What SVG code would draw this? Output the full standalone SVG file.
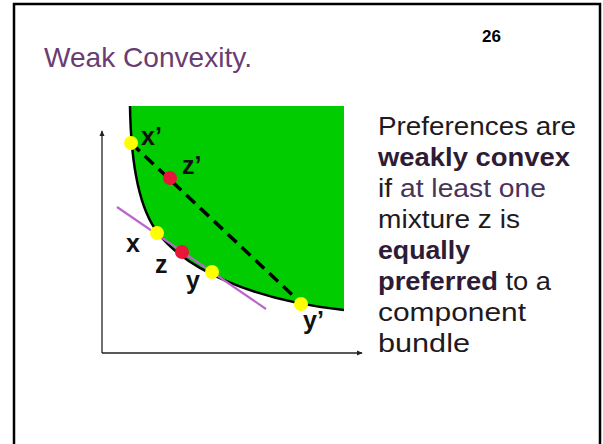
<svg xmlns="http://www.w3.org/2000/svg" width="603" height="444" viewBox="0 0 603 444">
<defs>
<marker id="ah" viewBox="0 0 8 8" refX="7" refY="4" markerWidth="6" markerHeight="6" orient="auto" markerUnits="userSpaceOnUse">
<path d="M0,0.5 L8,4 L0,7.5 Z" fill="#222"/>
</marker>
</defs>
<style>
.lbl{font-family:"Liberation Sans",Arial,sans-serif;font-size:25px;font-weight:bold;fill:#111}
.body{font-family:"Liberation Sans",Arial,sans-serif;font-size:26px;fill:#1e1a20}
.b{font-weight:bold;fill:#2e1b36}
.p{fill:#4a3358}
.yel{fill:#ffff00}
.red{fill:#e8173a}
</style>
<rect x="14" y="4" width="586" height="500" fill="#fff" stroke="#000" stroke-width="2.5"/>
<text x="44" y="67" font-family="'Liberation Sans',Arial,sans-serif" font-size="28" fill="#6a3d72" textLength="208" lengthAdjust="spacingAndGlyphs">Weak Convexity.</text>
<text x="482" y="42" font-family="'Liberation Sans',Arial,sans-serif" font-size="17" font-weight="bold" fill="#000">26</text>

<g id="region">
<path d="M130,106 C131,170 140,210 158,233 C185,268 250,300 344,310 L344,106 Z" fill="#00cc00"/>
<path d="M130,106 C131,170 140,210 158,233 C185,268 250,300 344,310" fill="none" stroke="#000" stroke-width="2.5"/>
</g>

<g id="connectors">
<line x1="102" y1="353" x2="102" y2="131" stroke="#222" stroke-width="1.3" marker-end="url(#ah)"/>
<line x1="102" y1="353" x2="362" y2="353" stroke="#222" stroke-width="1.3" marker-end="url(#ah)"/>
<line x1="131" y1="143" x2="302" y2="304" stroke="#000" stroke-width="3.5" stroke-dasharray="12 7"/>
<line x1="117" y1="207" x2="266" y2="309" stroke="#bb66cc" stroke-width="2.2"/>
</g>

<g id="node-xp"><circle cx="131" cy="143" r="7" class="yel"/><text x="141" y="145" class="lbl">x’</text></g>
<g id="node-zp"><circle cx="170" cy="178" r="7" class="red"/><text x="182" y="174" class="lbl">z’</text></g>
<g id="node-x"><circle cx="157" cy="233" r="7" class="yel"/><text x="126" y="252" class="lbl">x</text></g>
<g id="node-z"><circle cx="182" cy="252" r="7" class="red"/><text x="155" y="273" class="lbl">z</text></g>
<g id="node-y"><circle cx="212" cy="272" r="7" class="yel"/><text x="186" y="289" class="lbl">y</text></g>
<g id="node-yp"><circle cx="301" cy="304" r="7" class="yel"/><text x="303" y="329" class="lbl">y’</text></g>

<g id="description" class="body">
<text x="378" y="135" class="body" textLength="198" lengthAdjust="spacingAndGlyphs">Preferences are</text>
<text x="378" y="166" class="body b" textLength="192" lengthAdjust="spacingAndGlyphs">weakly convex</text>
<text x="378" y="197" class="body" textLength="168" lengthAdjust="spacingAndGlyphs">if <tspan class="p">at least one</tspan></text>
<text x="378" y="228" class="body" textLength="142" lengthAdjust="spacingAndGlyphs">mixture z is</text>
<text x="378" y="259" class="body b" textLength="92" lengthAdjust="spacingAndGlyphs">equally</text>
<text x="378" y="290" class="body" textLength="173" lengthAdjust="spacingAndGlyphs"><tspan class="b">preferred</tspan> to a</text>
<text x="378" y="321" class="body" textLength="148" lengthAdjust="spacingAndGlyphs">component</text>
<text x="378" y="352" class="body" textLength="92" lengthAdjust="spacingAndGlyphs">bundle</text>
</g>
</svg>
